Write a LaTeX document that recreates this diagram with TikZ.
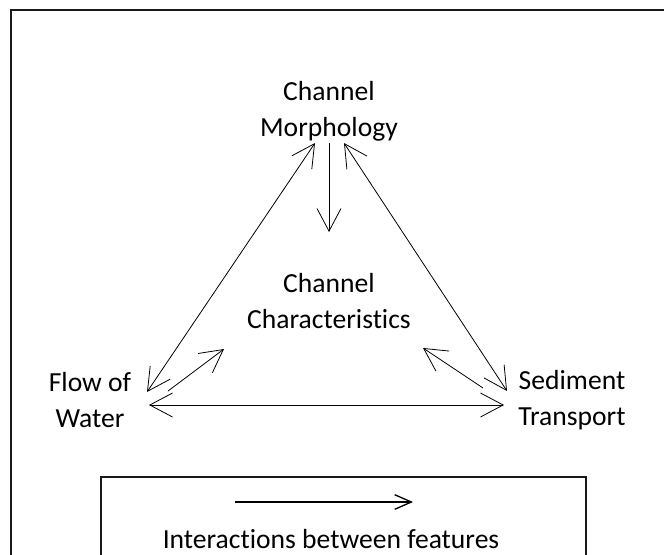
\documentclass[tikz,border=0pt]{standalone}
\usepackage{fontspec}
\setmainfont{Carlito}[Ligatures=NoCommon]
\usepackage{tikz}
\usetikzlibrary{arrows.meta}
\usetikzlibrary{calc}

\begin{document}
\begin{tikzpicture}[x=0.75pt, y=-0.75pt,
  feature/.style={align=center, inner sep=0pt, font=\fontsize{20.7}{27}\selectfont},
  link/.style={line width=0.6pt, {Straight Barb[length=17pt,width=18pt]}-{Straight Barb[length=17pt,width=18pt]}},
  onelink/.style={line width=0.6pt, -{Straight Barb[length=17pt,width=18pt]}},
  keyarrow/.style={line width=1pt, -{Straight Barb[length=12.5pt,width=11pt]}},
  frame/.style={draw=black!90, line width=1.1pt}]

  % Page and frames
  \clip (0,0) rectangle (664,554);
  \draw[frame] (11,10) rectangle (720,620);
  \draw[frame] (101,477) rectangle (586,620);

  % Nodes
  \node[feature] (morph) at (329,111) {Channel\\Morphology};
  \node[feature] (chars) at (329,301) {Channel\\Characteristics};
  \node[feature] (flow) at (90,400) {Flow of\\Water};
  \node[feature] (sed) at (572,400) {Sediment\\Transport};

  % Manually draw edges between the features
  \draw[link] ($(flow)+(57,-8)$) -- ($(morph)+(-14,32)$);
  \draw[link] ($(sed)+(-65,-9)$) -- ($(morph)+(15,32)$);
  \draw[link] ($(flow)+(59,5)$) -- ($(sed)+(-68,5)$);
  \draw[onelink] ($(morph)+(0,32)$) -- ($(chars)+(0,-69)$);
  \draw[onelink] ($(flow)+(78,-9)$) -- ($(chars)+(-105,48)$);
  \draw[onelink] ($(sed)+(-89,-12)$) -- ($(chars)+(94,47)$);

  % Key
  \node[feature, anchor=base] (keytext) at (331,548) {Interactions between features};
  \coordinate (keystart) at (235,502);
  \coordinate (keyend) at (413,502);
  \draw[keyarrow] (keystart) -- (keyend);

\end{tikzpicture}
\end{document}
